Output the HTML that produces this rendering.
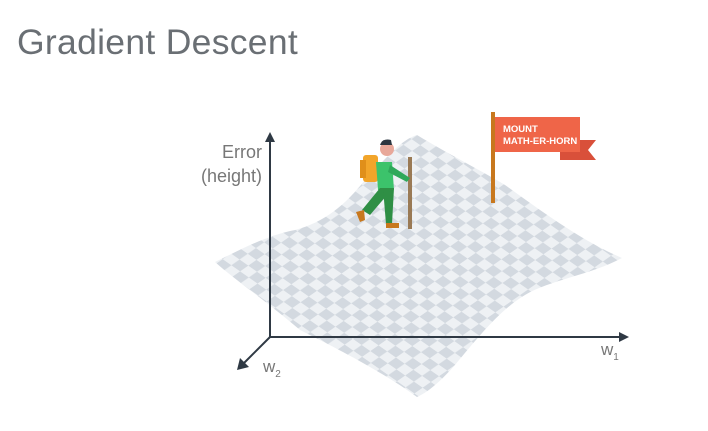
<!DOCTYPE html>
<html><head><meta charset="utf-8"><style>
html,body{margin:0;padding:0;background:#fff;}
svg{display:block;font-family:"Liberation Sans",sans-serif;}
</style></head><body>
<svg width="708" height="431" viewBox="0 0 708 431">
<defs>
<pattern id="chk" width="20" height="20" patternUnits="userSpaceOnUse" patternTransform="rotate(-35) skewX(20)">
<rect width="20" height="20" fill="#eef1f4"/>
<rect width="10" height="10" fill="#d3d9e0"/>
<rect x="10" y="10" width="10" height="10" fill="#d3d9e0"/>
</pattern>
</defs>
<text x="17" y="54" font-size="35.5" letter-spacing="0.3" fill="#6a6f74">Gradient Descent</text>
<path fill="url(#chk)" d="M215,262 C240,250 265,236 295,230 C325,222 345,205 365,180 C385,160 400,140 417,135 C450,155 480,170 505,185 C540,210 580,240 622,258 C590,275 550,280 525,295 C500,310 480,335 455,365 C440,382 428,392 417,397 C380,370 330,345 300,330 C265,300 235,280 215,262 Z"/>
<g stroke="#2f3944" stroke-width="2" fill="#2f3944">
<line x1="270" y1="337" x2="270" y2="140"/>
<polygon points="270,132 265,142 275,142" stroke="none"/>
<line x1="270" y1="337" x2="620" y2="337"/>
<polygon points="629,337 619,332 619,342" stroke="none"/>
<line x1="270" y1="337" x2="243" y2="364"/>
<polygon points="237,370 240,358 249,367" stroke="none"/>
</g>
<text x="262" y="158" font-size="18" fill="#777" text-anchor="end">Error</text>
<text x="262" y="182" font-size="18" fill="#777" text-anchor="end">(height)</text>
<text x="601" y="355" font-size="17" fill="#777">w<tspan font-size="10" dy="5">1</tspan></text>
<text x="263" y="372" font-size="17" fill="#777">w<tspan font-size="10" dy="5">2</tspan></text>
<g>
<rect x="491" y="112" width="4" height="91" fill="#c8781e"/>
<polygon points="560,140 596,140 588,150 596,160 560,160" fill="#d9503a"/>
<rect x="495" y="117" width="85" height="35" fill="#ef6548"/>
<text x="503" y="132" font-size="9.5" font-weight="bold" fill="#fff">MOUNT</text>
<text x="503" y="144" font-size="9.5" font-weight="bold" fill="#fff">MATH-ER-HORN</text>
</g>
<g>
<rect x="408" y="157" width="4" height="72" fill="#9a7a55"/>
<rect x="363" y="155" width="15" height="27" rx="3" fill="#f2a52a"/>
<rect x="360" y="160" width="6" height="18" fill="#e08f1a"/>
<circle cx="387" cy="149" r="7" fill="#e8a89a"/>
<path d="M380,145 Q382,138 391,140 L392,145 Z" fill="#2c3640"/>
<path d="M376,162 L392,162 L394,190 L378,190 Z" fill="#3cc36b"/>
<path d="M390,165 L410,178 L407,182 L388,172 Z" fill="#2fa85a"/>
<path d="M380,188 L393,188 L370,215 L362,210 Z" fill="#2f8f45"/>
<path d="M383,188 L394,188 L392,224 L386,224 Z" fill="#2f8f45"/>
<path d="M356,212 L364,210 L365,220 L360,222 Z" fill="#c8781e"/>
<rect x="386" y="223" width="13" height="5" fill="#c8781e"/>
</g>
</svg>
</body></html>
